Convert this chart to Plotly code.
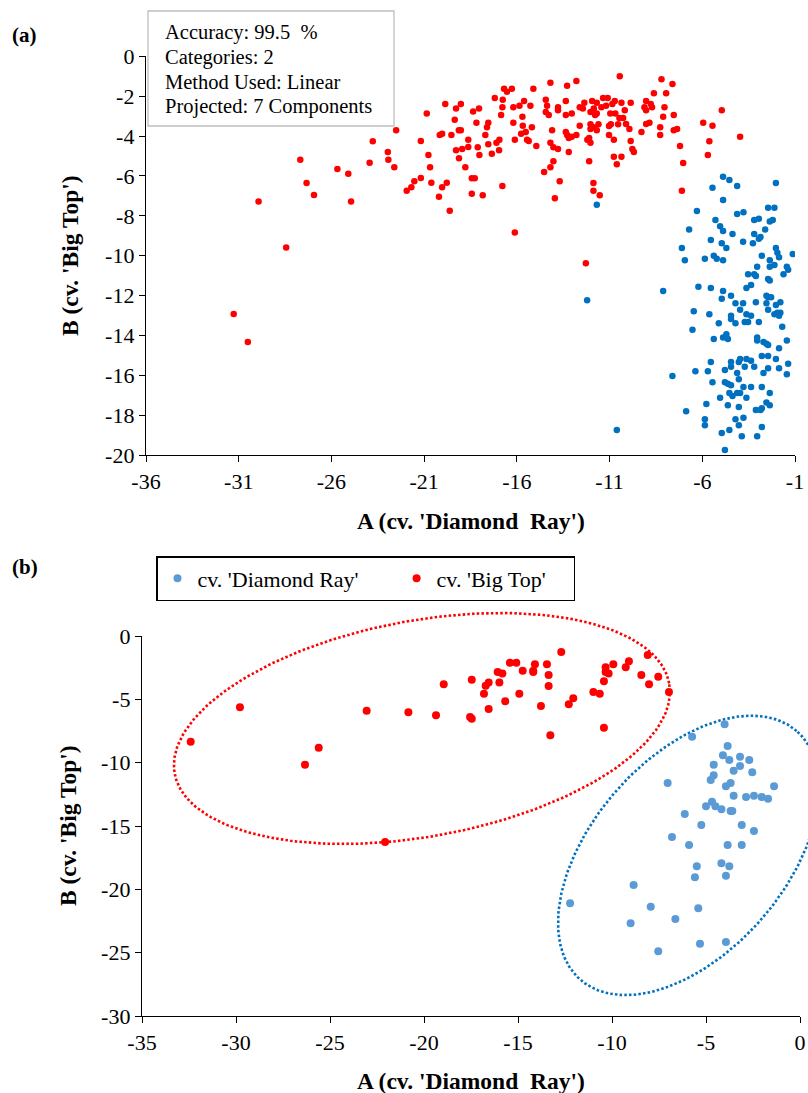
import numpy as np
import plotly.graph_objects as go

W, H = 808, 1093
FONT = "Liberation Serif, Times New Roman, serif"

# ---------------- panel (a): projected scores ----------------
a_bigtop_x = [-31.27, -30.51, -29.93, -28.44, -27.68, -27.34, -26.94, -25.68, -25.09, -24.94, -23.94, -23.77,
              -22.96, -22.93, -22.61, -22.51,
              -20.86, -19.86, -19.28, -19.02, -19.35, -21.18, -20.16, -20.03, -19.53, -19.13, -19.02, -18.62,
              -18.36, -18.04, -18.18, -17.54, -17.61, -17.70,
              -20.77, -20.68, -21.53, -21.18, -21.69, -21.94, -20.61, -19.78, -20.03, -20.20, -19.62, -19.28,
              -18.95, -18.62, -19.12, -18.78, -18.11, -18.02, -17.54, -17.35, -17.10, -16.94, -16.96, -18.43,
              -18.27, -18.43, -17.84, -16.78, -16.11,
              -17.19, -16.76, -16.69, -16.53, -16.27, -16.78, -16.85, -16.19, -15.86, -15.61, -15.27, -15.11,
              -15.70, -16.19, -15.68, -15.52, -15.77, -15.19, -16.11, -15.45, -15.36, -14.95,
              -14.19, -14.44, -14.37, -14.44, -14.28, -13.78, -13.78, -13.36, -13.36, -13.04, -13.29, -12.79,
              -14.10, -14.19, -14.03, -13.78, -13.20, -13.36, -13.29, -13.20, -13.04, -12.79, -12.61, -14.03,
              -14.19, -14.53, -13.69, -13.95,
              -12.61, -12.44, -12.36, -11.94, -11.69, -11.85, -12.03, -11.69, -11.78, -11.44, -11.35, -11.10,
              -11.19, -10.85, -10.72, -10.36, -9.86, -10.96, -10.69, -10.47, -10.27, -10.18, -10.45,
              -12.03, -11.60, -12.03, -11.69, -11.87, -10.93, -11.03, -10.54, -10.11, -9.93, -11.03, -10.77,
              -12.10, -12.20, -12.03, -12.10, -10.77, -10.36, -10.61, -9.86, -9.77, -9.69, -11.87, -11.87, -11.53,
              -9.28, -9.03, -9.03, -9.12, -8.78, -8.71, -9.03, -8.85, -8.61, -8.20, -7.95, -7.61, -8.11, -8.04,
              -8.27, -8.27, -7.54, -7.54, -7.36, -7.20, -7.03, -7.10, -5.95, -5.45, -4.95, -5.62, -5.70, -3.96,
              -12.28]
a_bigtop_y = [-12.93, -14.33, -7.28, -9.59, -5.18, -6.35, -6.96, -5.65, -5.89, -7.28, -5.33, -4.26,
              -4.80, -5.18, -5.56, -3.71,
              -2.86, -2.39, -2.62, -2.39, -3.18, -4.24, -3.94, -3.88, -3.94, -3.71, -3.71, -4.18,
              -2.77, -2.62, -3.33, -3.33, -3.56, -3.94,
              -4.95, -5.56, -6.27, -6.10, -6.57, -6.74, -6.34, -6.34, -6.57, -7.04, -7.74, -4.71,
              -4.65, -4.55, -5.11, -5.56, -4.56, -4.95, -4.41, -4.88, -4.33, -4.18, -4.71, -6.12,
              -6.12, -6.89, -6.97, -6.50, -8.83,
              -2.09, -2.17, -1.62, -1.77, -1.62, -2.55, -2.94, -2.55, -2.47, -2.24, -2.47, -1.62,
              -3.03, -3.33, -3.48, -3.79, -3.88, -3.56, -4.18, -4.18, -4.25, -4.50,
              -1.32, -2.17, -2.47, -2.79, -2.94, -2.55, -2.70, -2.24, -2.94, -2.86, -1.47, -1.23,
              -3.71, -4.33, -4.56, -4.65, -4.80, -3.79, -3.94, -4.09, -4.03, -3.94, -3.48, -5.26,
              -5.56, -5.80, -6.27, -7.12,
              -2.55, -2.62, -2.32, -2.24, -2.32, -2.62, -2.79, -2.86, -2.94, -2.55, -2.09, -2.09,
              -2.47, -2.39, -2.24, -2.32, -2.32, -2.86, -2.86, -3.09, -3.09, -2.70, -1.00,
              -3.41, -3.41, -3.64, -3.71, -3.56, -3.41, -3.49, -3.41, -3.39, -3.64, -3.94, -4.18,
              -4.09, -4.18, -4.33, -5.26, -5.03, -5.03, -5.41, -4.24, -4.65, -4.80, -6.35, -6.74, -6.97,
              -3.79, -2.24, -2.70, -2.55, -2.39, -2.55, -3.39, -3.33, -1.85, -1.15, -1.85, -1.38, -3.03, -2.55,
              -3.56, -3.94, -2.94, -3.71, -3.64, -4.50, -5.35, -6.74, -3.33, -3.48, -2.70, -4.26, -4.95, -4.03,
              -10.38]

a_diamond_x = [-11.69, -12.21, -10.61, -8.11, -7.61, -6.87, -6.71, -7.10, -6.94, -6.29, -6.21, -6.46,
               -6.53, -6.37, -5.86, -5.86, -5.78, -5.70, -5.54, -5.45, -5.62, -5.54, -5.86, -5.54,
               -5.45, -5.29, -5.04, -4.88, -4.88, -4.88, -4.54, -4.12, -4.37, -4.95, -4.70, -5.38,
               -5.22, -4.88, -4.12, -3.78, -3.80, -3.27, -3.20, -2.95, -2.86, -2.61, -3.20, -2.95,
               -2.45, -2.11, -2.36, -2.20, -2.03, -2.03, -1.95, -1.86, -2.79, -2.36, -2.36, -2.11,
               -3.04, -1.12, -1.44, -1.37, -1.62, -3.53, -3.20, -3.11, -2.45, -2.36, -3.37, -3.62,
               -4.88, -4.95, -4.45, -4.21, -3.80, -3.96, -3.62, -3.37, -4.45, -4.45, -4.21, -3.71,
               -3.53, -2.95, -3.11, -2.54, -2.45, -2.29, -2.54, -2.03, -1.79, -2.45, -2.11, -1.95,
               -1.79, -1.86, -1.69, -5.11, -5.38, -4.88, -4.70, -4.62, -3.04, -3.04, -2.70, -2.54,
               -2.45, -1.44, -1.86, -2.79, -2.45, -2.03, -1.37, -1.44, -1.86, -2.45, -2.70, -3.20,
               -3.37, -3.62, -3.96, -4.03, -4.45, -4.45, -3.71, -4.12, -4.78, -4.03, -4.78, -4.62,
               -4.45, -4.12, -3.96, -3.78, -3.37, -2.79, -2.36, -4.54, -4.37, -5.04, -3.62, -2.54,
               -2.36, -2.79, -3.11, -2.86, -4.03, -4.62, -4.21, -4.03, -3.78, -2.79, -4.54, -4.95,
               -3.87, -3.04, -4.78]
a_diamond_y = [-7.44, -12.24, -18.75, -11.77, -16.04, -17.81, -8.68, -9.61, -10.23, -7.76, -11.56, -12.79,
               -13.71, -15.80, -18.21, -18.51, -17.44, -15.80, -15.33, -16.35, -12.94, -11.62, -10.15, -9.21,
               -6.59, -8.21, -8.52, -8.76, -7.21, -6.04, -6.20, -6.50, -8.91, -9.38, -9.61, -10.00,
               -10.15, -10.23, -7.91, -7.82, -9.30, -9.38, -8.91, -9.15, -9.06, -8.68, -8.21, -8.14,
               -7.59, -7.59, -8.29, -8.21, -6.35, -9.61, -9.85, -10.08, -10.00, -10.23, -10.55, -10.47,
               -10.55, -9.92, -10.55, -10.70, -10.93, -10.93, -10.93, -11.02, -11.17, -11.25, -11.47, -11.62,
               -11.77, -12.16, -12.01, -12.39, -12.39, -12.71, -12.94, -13.01, -13.01, -13.18, -13.39, -13.33,
               -13.33, -13.33, -12.33, -12.01, -12.09, -12.09, -12.39, -12.47, -12.33, -12.71, -12.94, -12.86,
               -12.86, -13.01, -13.56, -13.39, -14.18, -14.10, -13.94, -14.18, -14.10, -14.25, -14.33, -14.42,
               -14.48, -14.25, -14.65, -15.03, -15.03, -15.18, -15.42, -15.95, -15.65, -15.65, -15.89, -15.57,
               -15.27, -15.18, -15.18, -15.33, -15.33, -15.57, -15.57, -15.89, -15.74, -16.20, -16.35, -16.42,
               -16.50, -16.89, -16.89, -16.59, -16.59, -16.59, -16.89, -16.89, -17.04, -17.13, -17.13, -17.36,
               -17.51, -17.66, -17.74, -17.74, -17.59, -17.51, -18.21, -18.51, -18.13, -18.60, -18.75, -18.90,
               -19.06, -19.06, -19.75]

# ---------------- panel (b): validation scores ----------------
b_bigtop_x = [-32.41, -29.79, -26.33, -25.60, -23.05, -20.83, -22.07,
              -18.95, -19.36, -17.46, -17.55, -17.46, -16.81, -16.72, -16.56, -16.56, -16.08, -15.83, -15.99,
              -15.68, -15.43, -15.09, -14.75, -14.93, -14.10, -14.19, -14.19, -13.46, -13.37, -13.37, -13.78,
              -13.28, -12.70, -12.06, -12.30, -10.99, -10.65, -10.43, -10.34, -10.34, -10.18, -9.93, -10.43,
              -9.27, -9.10, -8.44, -8.03, -8.10, -7.54, -6.97]
b_bigtop_y = [-8.34, -5.63, -10.16, -8.82, -5.90, -6.02, -16.26,
              -3.81, -6.26, -3.45, -6.39, -6.53, -4.55, -3.92, -3.68, -5.76, -2.84, -2.97, -3.68,
              -5.16, -2.11, -2.11, -2.74, -4.55, -2.24, -2.74, -2.84, -2.24, -3.08, -3.95, -5.53,
              -7.84, -1.26, -4.92, -5.39, -4.42, -4.55, -3.58, -2.47, -2.84, -2.97, -2.24, -7.24,
              -2.47, -2.00, -3.08, -3.81, -1.50, -3.21, -4.42]

b_diamond_x = [-4.01, -5.74, -3.85, -4.10, -3.76, -3.19, -2.70, -3.19, -3.53, -2.54, -4.59, -4.59,
               -4.75, -7.04, -3.69, -3.94, -1.38, -3.53, -2.87, -2.45, -2.04, -1.70, -5.00, -4.68,
               -4.50, -4.18, -3.69, -3.60, -6.13, -5.25, -3.10, -2.45, -6.81, -5.90, -3.85, -3.10,
               -4.18, -3.76, -5.49, -5.59, -3.94, -8.85, -12.23, -7.94, -5.41, -9.01, -6.63, -7.54,
               -5.32, -3.94]
b_diamond_y = [-6.97, -7.95, -8.68, -9.42, -9.79, -9.53, -9.79, -10.26, -10.63, -10.76, -10.16, -11.00,
               -11.37, -11.61, -11.61, -11.87, -11.87, -12.61, -12.71, -12.61, -12.71, -12.84, -13.45, -13.08,
               -13.45, -13.68, -13.82, -13.82, -14.05, -14.92, -14.92, -15.39, -15.87, -16.50, -16.50, -16.50,
               -17.95, -18.18, -18.18, -19.05, -18.92, -19.66, -21.10, -21.37, -21.50, -22.68, -22.34, -24.89,
               -24.29, -24.16]

# axis ticks (labels use a plain hyphen for the minus sign)
a_xticks = [-36, -31, -26, -21, -16, -11, -6, -1]
a_yticks = [0, -2, -4, -6, -8, -10, -12, -14, -16, -18, -20]
b_xticks = [-35, -30, -25, -20, -15, -10, -5, 0]
b_yticks = [0, -5, -10, -15, -20, -25, -30]

# group outlines in panel (b): centre and two conjugate semi-axis vectors (data units)
outline_bigtop = dict(c=(-20.11, -7.30), u=(13.15, 3.565), v=(-1.034, 8.39))
outline_diamond = dict(c=(-5.93, -17.32), u=(5.75, 9.82), v=(-3.89, 5.02))

RED = "#FF0000"
BLUE_A = "#0070C0"
BLUE_B = "#5B9BD5"
NBSP = "\u00a0"


def outline(g, n=260):
    t = np.linspace(0, 2 * np.pi, n)
    x = g["c"][0] + g["u"][0] * np.cos(t) + g["v"][0] * np.sin(t)
    y = g["c"][1] + g["u"][1] * np.cos(t) + g["v"][1] * np.sin(t)
    return x, y


def px(v):
    return v / W


def py(v):
    return 1 - v / H


def labels(vals):
    return [str(v) for v in vals]


# panel (b) plot box (pixels) and a wider, unclipped drawing box sharing the same scale
B_L, B_R, B_T, B_B = 142, 800, 636, 1016
B_RANGE_X = (-35, 0)
B_RANGE_Y = (-30, 0)
D_R, D_T = 808, 598
ux = (B_RANGE_X[1] - B_RANGE_X[0]) / (B_R - B_L)
uy = (B_RANGE_Y[1] - B_RANGE_Y[0]) / (B_B - B_T)
draw_range_x = [B_RANGE_X[0], B_RANGE_X[0] + ux * (D_R - B_L)]
draw_range_y = [B_RANGE_Y[0], B_RANGE_Y[0] + uy * (B_B - D_T)]

fig = go.Figure()

fig.add_trace(go.Scatter(x=a_bigtop_x, y=a_bigtop_y, mode="markers", xaxis="x", yaxis="y",
                         marker=dict(color=RED, size=6.5), showlegend=False, hoverinfo="skip"))
fig.add_trace(go.Scatter(x=a_diamond_x, y=a_diamond_y, mode="markers", xaxis="x", yaxis="y",
                         marker=dict(color=BLUE_A, size=6.5), showlegend=False, hoverinfo="skip"))

# empty trace keeps the visible axes of panel (b)
fig.add_trace(go.Scatter(x=[], y=[], xaxis="x2", yaxis="y2", showlegend=False, hoverinfo="skip"))

for g, col in ((outline_bigtop, RED), (outline_diamond, BLUE_A)):
    ex, ey = outline(g)
    fig.add_trace(go.Scatter(x=ex, y=ey, mode="lines", xaxis="x3", yaxis="y3",
                             line=dict(color=col, width=2.6, dash="2.5px,2.2px"),
                             showlegend=False, hoverinfo="skip"))

fig.add_trace(go.Scatter(x=b_diamond_x, y=b_diamond_y, mode="markers", xaxis="x3", yaxis="y3",
                         name="cv. 'Diamond Ray'" + NBSP * 6, marker=dict(color=BLUE_B, size=8),
                         hoverinfo="skip"))
fig.add_trace(go.Scatter(x=b_bigtop_x, y=b_bigtop_y, mode="markers", xaxis="x3", yaxis="y3",
                         name="cv. 'Big Top'" + NBSP * 4, marker=dict(color=RED, size=8),
                         hoverinfo="skip"))

axis_style = dict(showline=True, linecolor="black", linewidth=1.3, ticks="outside", ticklen=6,
                  tickwidth=1.3, tickcolor="black", showgrid=False, zeroline=False,
                  tickmode="array", tickfont=dict(family=FONT, size=22, color="black"))
hidden = dict(visible=False, showgrid=False, zeroline=False)

fig.update_layout(
    width=W, height=H, margin=dict(l=0, r=0, t=0, b=0, autoexpand=False),
    paper_bgcolor="white", plot_bgcolor="rgba(0,0,0,0)",
    font=dict(family=FONT, color="black"),
    xaxis=dict(domain=[px(146), px(795)], anchor="y", range=[-36, -1],
               tickvals=a_xticks, ticktext=labels(a_xticks), **axis_style),
    yaxis=dict(domain=[py(455), py(56.4)], anchor="x", range=[-20, 0],
               tickvals=a_yticks, ticktext=labels(a_yticks), **axis_style),
    xaxis2=dict(domain=[px(B_L), px(B_R)], anchor="y2", range=list(B_RANGE_X),
                tickvals=b_xticks, ticktext=labels(b_xticks), **axis_style),
    yaxis2=dict(domain=[py(B_B), py(B_T)], anchor="x2", range=list(B_RANGE_Y),
                tickvals=b_yticks, ticktext=labels(b_yticks), **axis_style),
    xaxis3=dict(domain=[px(B_L), px(D_R)], anchor="y3", range=draw_range_x, **hidden),
    yaxis3=dict(domain=[py(B_B), py(D_T)], anchor="x3", range=draw_range_y, **hidden),
    legend=dict(orientation="h", x=px(156), y=py(556), xanchor="left", yanchor="top",
                bordercolor="black", borderwidth=1.5, bgcolor="white",
                font=dict(family=FONT, size=22, color="black")),
)

# summary box for panel (a)
fig.add_shape(type="rect", xref="paper", yref="paper", x0=px(148), x1=px(394), y0=py(126), y1=py(11),
              line=dict(color="#BFBFBF", width=1.3), fillcolor="white", layer="above")
summary = ["Accuracy: 99.5  %", "Categories: 2", "Method Used: Linear", "Projected: 7 Components"]
for i, line in enumerate(summary):
    fig.add_annotation(text=line, xref="paper", yref="paper", x=px(163), y=py(32 + 25 * i),
                       xanchor="left", yanchor="middle", showarrow=False,
                       font=dict(family=FONT, size=20.5, color="black"))

xtitle = "<b>A (cv. 'Diamond  Ray')</b>"
ytitle = "<b>B (cv. 'Big Top')</b>"
titles = [
    (xtitle, 470.5, 521, 0), (ytitle, 70, 256, -90),
    (xtitle, 471, 1081, 0), (ytitle, 68, 826, -90),
]
for text, x0, y0, ang in titles:
    fig.add_annotation(text=text, xref="paper", yref="paper", x=px(x0), y=py(y0),
                       xanchor="center", yanchor="middle", showarrow=False, textangle=ang,
                       font=dict(family=FONT, size=23.5, color="black"))

for text, y0 in (("<b>(a)</b>", 35), ("<b>(b)</b>", 567)):
    fig.add_annotation(text=text, xref="paper", yref="paper", x=px(10), y=py(y0),
                       xanchor="left", yanchor="middle", showarrow=False,
                       font=dict(family=FONT, size=21, color="black"))

fig.write_html("out.html")
